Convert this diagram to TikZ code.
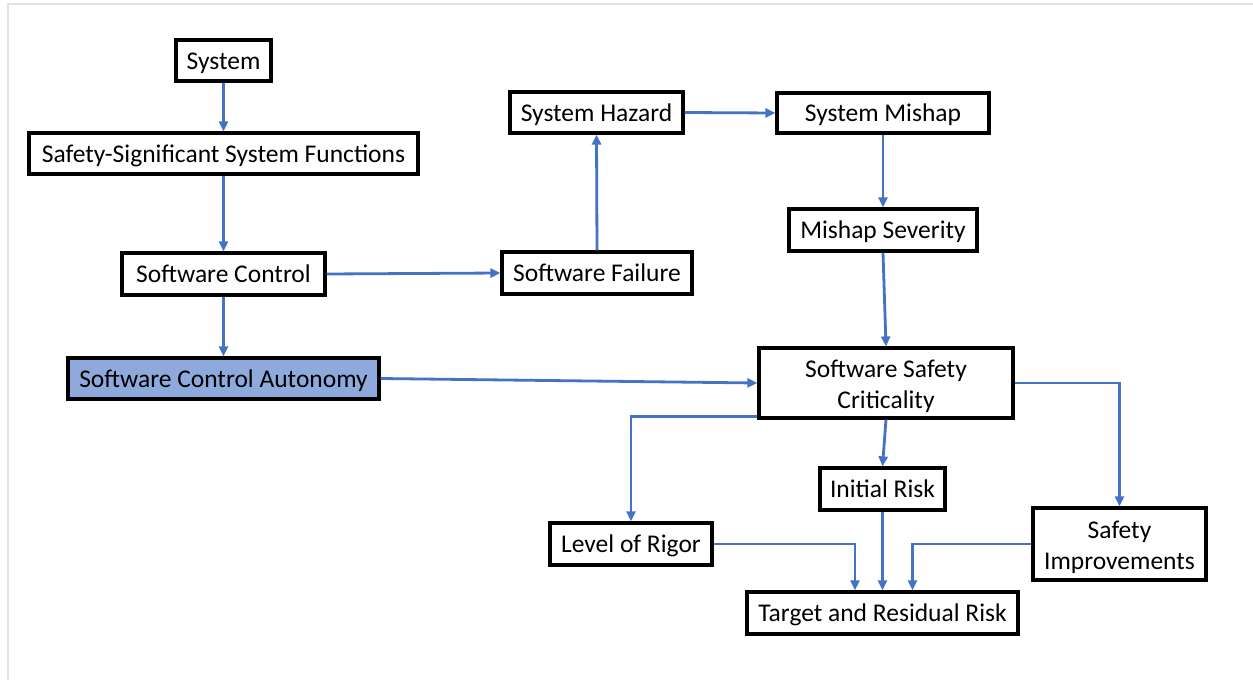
\documentclass[tikz,border=0pt]{standalone}
\usepackage{fontspec}
\setmainfont{Carlito}
\usetikzlibrary{arrows.meta}
\definecolor{arrowblue}{HTML}{4472C4}
\definecolor{boxblue}{HTML}{8EA9DB}
\definecolor{framegray}{HTML}{E2E2E2}
\newcommand{\twolines}[2]{\raisebox{-4pt}[\height][\depth]{\begin{tabular}{@{}c@{}}#1\\#2\end{tabular}}}
\tikzset{
  box/.style={draw=black, line width=3.2pt, fill=white, inner sep=0pt, font=\fontsize{25.5}{31}\selectfont, text height=17pt, text depth=0pt},
  tallbox/.style={draw=black, line width=3.2pt, fill=white, inner sep=0pt, font=\fontsize{25.5}{31}\selectfont},
  arr/.style={draw=arrowblue, line width=2.8pt, -{Triangle[length=10pt,width=9pt]}}
}
\begin{document}
\begin{tikzpicture}[x=1pt,y=-1pt]
\useasboundingbox (0,0) rectangle (1253,680);
\fill[white] (0,0) rectangle (1253,680);
\draw[framegray, line width=2.2pt] (8,680) -- (8,4) -- (1253,4);

\node[box, minimum width=95pt, minimum height=41pt] (sys) at (223.5,60.5) {System};
\node[box, minimum width=389pt, minimum height=41pt] (sssf) at (223.5,153.5) {Safety-Significant System Functions};
\node[box, minimum width=203pt, minimum height=42pt] (sc) at (223.5,274) {Software Control};
\node[box, fill=boxblue, minimum width=311pt, minimum height=41pt] (sca) at (223.5,378.5) {Software Control Autonomy};
\node[box, minimum width=173pt, minimum height=41pt] (sh) at (596.5,112.5) {System Hazard};
\node[box, minimum width=212pt, minimum height=40pt] (sm) at (883,113) {System Mishap};
\node[box, minimum width=188pt, minimum height=42pt] (ms) at (883,230) {Mishap Severity};
\node[box, minimum width=190pt, minimum height=42pt] (sf) at (597,273) {Software Failure};
\node[tallbox, minimum width=254pt, minimum height=70pt] (ssc) at (886,383) {\twolines{Software Safety}{Criticality}};
\node[box, minimum width=125pt, minimum height=42pt] (ir) at (882.5,489) {Initial Risk};
\node[box, minimum width=162pt, minimum height=42pt] (lor) at (631,544) {Level of Rigor};
\node[tallbox, minimum width=173pt, minimum height=72pt] (si) at (1119.5,544) {\twolines{Safety}{Improvements}};
\node[box, minimum width=271pt, minimum height=42pt] (trr) at (882.5,613) {Target and Residual Risk};

\draw[arr] (sys.south) -- (sssf.north);
\draw[arr] (sssf.south) -- (sc.north);
\draw[arr] (sc.south) -- (sca.north);
\draw[arr] (sc.east) -- (sf.west);
\draw[arr] (sf.north) -- (sh.south);
\draw[arr] (sh.east) -- (sm.west);
\draw[arr] (sm.south) -- (ms.north);
\draw[arr] (ms.south) -- (ssc.north);
\draw[arr] (sca.east) -- (ssc.west);
\draw[arr] ([yshift=3pt]ssc.south west) -| (lor.north);
\draw[arr] (ssc.south) -- (ir.north);
\draw[arr] (ssc.east) -| (si.north);
\draw[arr] (lor.east) -| ([xshift=-27.5pt]trr.north);
\draw[arr] (ir.south) -- (trr.north);
\draw[arr] (si.west) -| ([xshift=30pt]trr.north);
\end{tikzpicture}
\end{document}
